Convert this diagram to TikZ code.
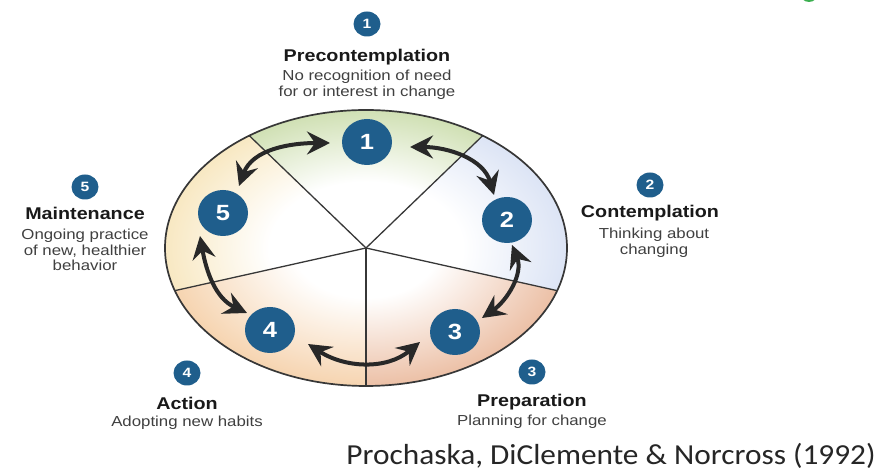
\documentclass[tikz,border=0pt]{standalone}
\usepackage{fontspec}
\usetikzlibrary{arrows.meta,shapes.geometric}

\newfontfamily\labfont[FakeStretch=1.16]{Liberation Sans}
\newfontfamily\citefont[FakeStretch=1.08]{Carlito}

\definecolor{stageblue}{RGB}{31,94,140}
\definecolor{rimgreen}{RGB}{208,224,180}
\definecolor{rimblue}{RGB}{220,228,245}
\definecolor{rimsalmon}{RGB}{236,192,166}
\definecolor{rimpeach}{RGB}{246,212,176}
\definecolor{rimcream}{RGB}{248,232,194}
\definecolor{arrowgray}{RGB}{40,40,40}
\definecolor{edgegray}{RGB}{55,55,55}
\definecolor{headgreen}{RGB}{60,175,80}

% radial fades: white hub, tinted rim (25bp = rim of the shaded ellipse)
\pgfdeclareradialshading{fadegreen}{\pgfpoint{0bp}{0bp}}{color(0bp)=(white); color(12bp)=(white); color(25bp)=(rimgreen); color(50bp)=(rimgreen)}
\pgfdeclareradialshading{fadeblue}{\pgfpoint{0bp}{0bp}}{color(0bp)=(white); color(12bp)=(white); color(25bp)=(rimblue); color(50bp)=(rimblue)}
\pgfdeclareradialshading{fadesalmon}{\pgfpoint{0bp}{0bp}}{color(0bp)=(white); color(9bp)=(white); color(25bp)=(rimsalmon); color(50bp)=(rimsalmon)}
\pgfdeclareradialshading{fadepeach}{\pgfpoint{0bp}{0bp}}{color(0bp)=(white); color(9bp)=(white); color(25bp)=(rimpeach); color(50bp)=(rimpeach)}
\pgfdeclareradialshading{fadecream}{\pgfpoint{0bp}{0bp}}{color(0bp)=(white); color(12bp)=(white); color(25bp)=(rimcream); color(50bp)=(rimcream)}

\begin{document}
\begin{tikzpicture}[x=1pt,y=1pt,
  stagebig/.style={ellipse, fill=stageblue, inner sep=0pt, minimum width=50pt, minimum height=46pt,
    text=white, font=\labfont\bfseries\fontsize{22}{22}\selectfont},
  stagesmall/.style={ellipse, fill=stageblue, inner sep=0pt, minimum width=27pt, minimum height=25pt,
    text=white, font=\labfont\bfseries\fontsize{13.5}{13.5}\selectfont},
  stagetitle/.style={inner sep=0pt, text=black!90, font=\labfont\bfseries\fontsize{17}{17}\selectfont},
  stagedesc/.style={inner sep=0pt, align=center, text=black!75, font=\labfont\fontsize{14.5}{15.8}\selectfont},
  cycarrow/.style={draw=arrowgray, line width=4pt,
    arrows={Stealth[length=23pt,width=23pt,inset=8pt]-Stealth[length=23pt,width=23pt,inset=8pt]}},
  divider/.style={draw=edgegray, line width=1.3pt}
]
\useasboundingbox (0,0) rectangle (889,473);
\fill[white] (0,0) rectangle (889,473);

% remnant of a heading mark at the top edge
\fill[headgreen] (809,480) circle (9);

% the wheel
\coordinate (hub) at (366,225);
\foreach \a/\b/\sh in {54.5/125.5/fadegreen, -18/54.5/fadeblue, -90/-18/fadesalmon,
                      198/270/fadepeach, 125.5/198/fadecream}{
  \begin{scope}
    \clip (hub) -- ++(\a:201 and 138) arc[start angle=\a, end angle=\b, x radius=201, y radius=138] -- cycle;
    \shade[shading=\sh] (hub) ellipse[x radius=201, y radius=138];
  \end{scope}
}
\foreach \a in {125.5,54.5,-18,-90,198}
  \draw[divider] (hub) -- ++(\a:201 and 138);
\draw[edgegray, line width=1.7pt] (hub) ellipse[x radius=201, y radius=138];

% stage numbers on the wheel
\node[stagebig] (b1) at (367,331) {1};
\node[stagebig] (b2) at (507,253) {2};
\node[stagebig] (b3) at (455,141) {3};
\node[stagebig] (b4) at (270,143) {4};
\node[stagebig] (b5) at (223,260) {5};

% cycle arrows between neighbouring stages
\coordinate (e51) at (239,287); \coordinate (e15) at (330,330);
\coordinate (e12) at (410,326); \coordinate (e21) at (494,278);
\coordinate (e23) at (512,228); \coordinate (e32) at (482,155);
\coordinate (e34) at (420,131); \coordinate (e43) at (308,129);
\coordinate (e45) at (247,160); \coordinate (e54) at (200,237);
\draw[cycarrow] (e51) to[out=70,  in=180] (e15);
\draw[cycarrow] (e12) to[out=0,   in=106] (e21);
\draw[cycarrow] (e23) to[out=292, in=35]  (e32);
\draw[cycarrow] (e34) to[out=220, in=327] (e43);
\draw[cycarrow] (e45) to[out=155, in=280] (e54);

% stage captions
\node[stagesmall] (s1) at (367,449) {1};
\node[stagetitle] (t1) at (367,416) {Precontemplation};
\node[stagedesc]  (d1) at (367,388) {No recognition of need\\for or interest in change};

\node[stagesmall] (s2) at (650,288) {2};
\node[stagetitle] (t2) at (650,260) {Contemplation};
\node[stagedesc]  (d2) at (654,230.5) {Thinking about\\changing};

\node[stagesmall] (s3) at (532,101) {3};
\node[stagetitle] (t3) at (532,71) {Preparation};
\node[stagedesc]  (d3) at (532,51) {Planning for change};

\node[stagesmall] (s4) at (187,100) {4};
\node[stagetitle] (t4) at (187,70) {Action};
\node[stagedesc]  (d4) at (187,50) {Adopting new habits};

\node[stagesmall] (s5) at (85,286) {5};
\node[stagetitle] (t5) at (85,260) {Maintenance};
\node[stagedesc]  (d5) at (85,223) {Ongoing practice\\of new, healthier\\behavior};

% source
\node[inner sep=0pt, text=black!85, font=\citefont\fontsize{29}{29}\selectfont] (src) at (611,17)
  {Prochaska, DiClemente \& Norcross (1992)};
\end{tikzpicture}
\end{document}
